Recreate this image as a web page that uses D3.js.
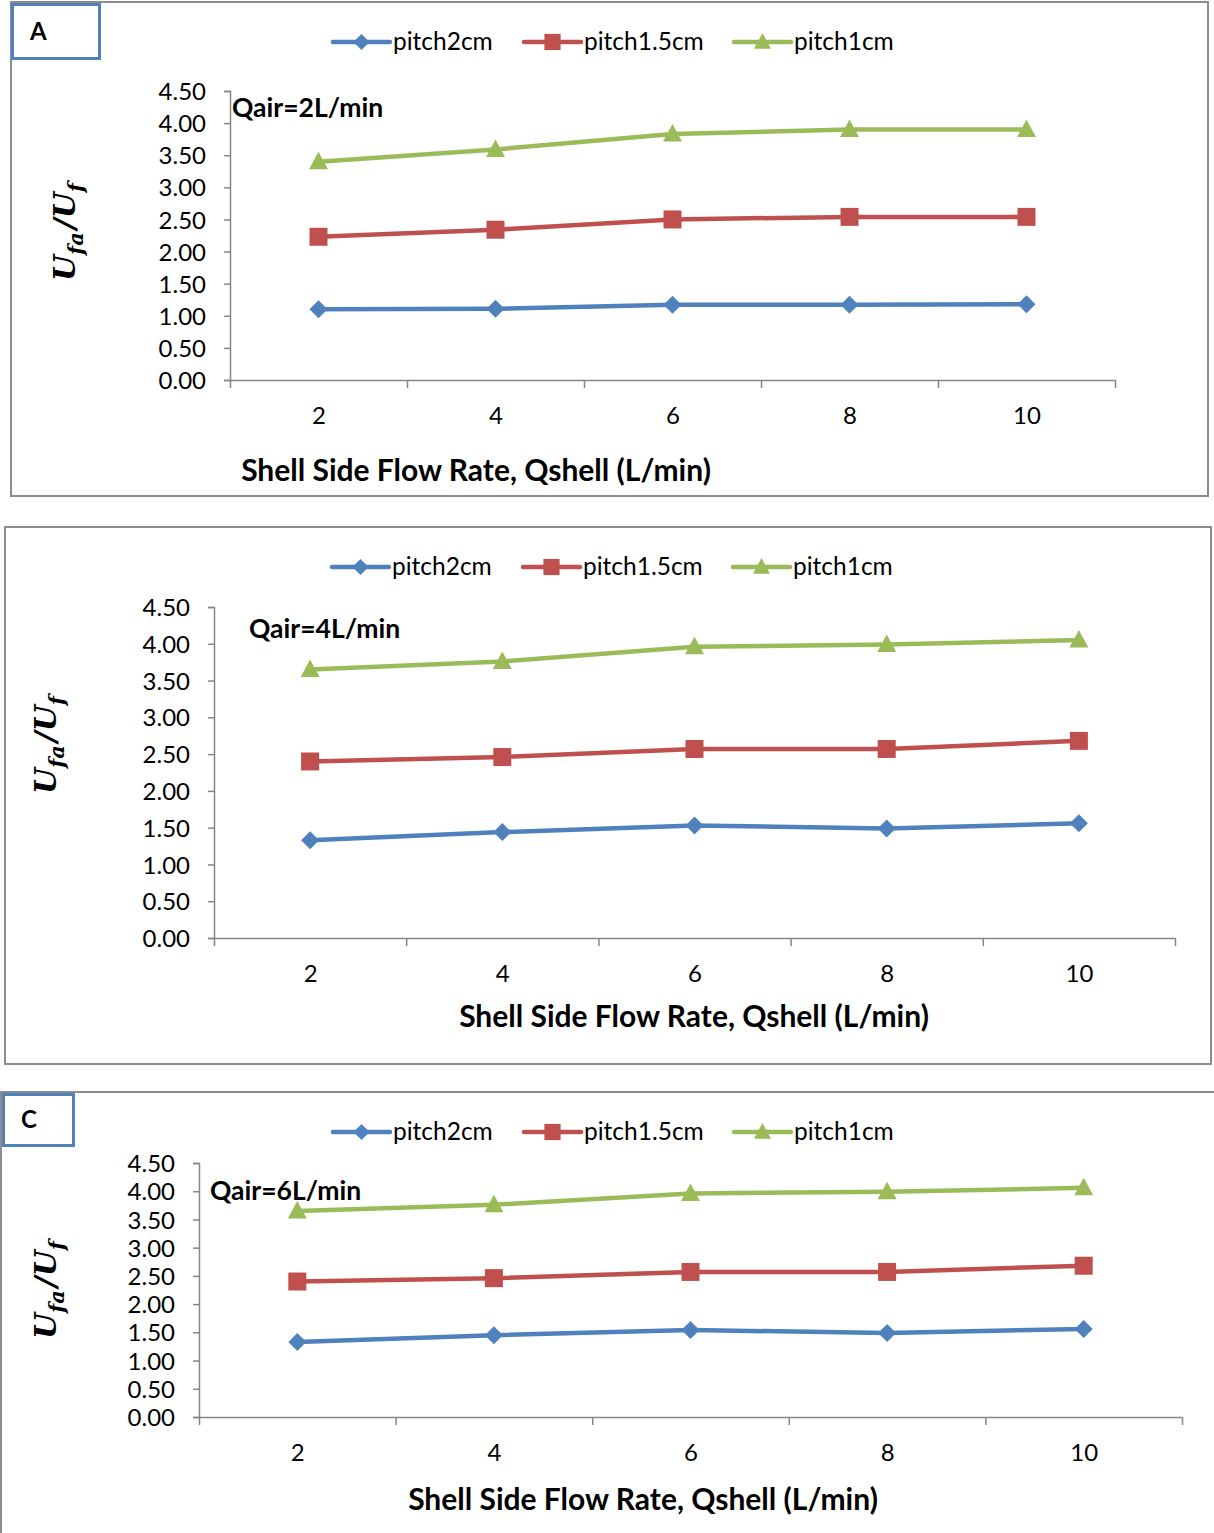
<!DOCTYPE html>
<html>
<head>
<meta charset="utf-8">
<script src="https://cdn.jsdelivr.net/npm/d3@7"></script>
<style>
  body { margin: 0; background: #fff; }
  svg { display: block; font-family: Lato, "Open Sans", sans-serif; }
</style>
</head>
<body>
<svg id="chart" width="1214" height="1533"></svg>
<script>
// Shell side flow rate (L/min) categories
const qShell = [2, 4, 6, 8, 10];
const yTicks = [0, 0.5, 1, 1.5, 2, 2.5, 3, 3.5, 4, 4.5];
const seriesNames = ['pitch2cm', 'pitch1.5cm', 'pitch1cm'];
const seriesColors = ['#4F81BD', '#C0504D', '#9BBB59'];
const seriesShapes = ['diamond', 'square', 'triangle'];

// Qair = 2 L/min
const a_pitch2 = [1.10, 1.11, 1.17, 1.17, 1.18];
const a_pitch15 = [2.23, 2.34, 2.50, 2.54, 2.54];
const a_pitch1 = [3.40, 3.59, 3.83, 3.90, 3.90];
// Qair = 4 L/min
const b_pitch2 = [1.33, 1.44, 1.53, 1.49, 1.56];
const b_pitch15 = [2.40, 2.46, 2.57, 2.57, 2.68];
const b_pitch1 = [3.65, 3.76, 3.96, 3.99, 4.05];
// Qair = 6 L/min
const c_pitch2 = [1.33, 1.45, 1.54, 1.49, 1.56];
const c_pitch15 = [2.40, 2.46, 2.57, 2.57, 2.68];
const c_pitch1 = [3.65, 3.76, 3.96, 3.99, 4.06];

const panelTitles = ['Qair=2L/min', 'Qair=4L/min', 'Qair=6L/min'];
const panelLetters = ['A', null, 'C'];
const xTitle = 'Shell Side Flow Rate, Qshell (L/min)';

const svg = d3.select('#chart');

// layout of each panel (frame, plot area, text positions)
const panels = [
  { frame: [11, 2, 1208, 496], letterBox: [11, 3, 101, 60],
    plot: { left: 230, right: 1115, top: 91, bottom: 380 },
    legendY: 42, legendX: 333, noteX: 232, noteY: 117, catY: 424, titleX: 476, titleY: 481,
    yLabelX: 64, yLabelY: 232, series: [a_pitch2, a_pitch15, a_pitch1] },
  { frame: [5, 527, 1211, 1064], letterBox: null,
    plot: { left: 214, right: 1175, top: 607, bottom: 938 },
    legendY: 567, legendX: 332, noteX: 249, noteY: 638, catY: 982, titleX: 694, titleY: 1027,
    yLabelX: 45, yLabelY: 745, series: [b_pitch2, b_pitch15, b_pitch1] },
  { frame: [1, 1092, 1216, 1536], letterBox: [2, 1093, 75, 1147],
    plot: { left: 199, right: 1182, top: 1163, bottom: 1417 },
    legendY: 1132, legendX: 333, noteX: 210, noteY: 1200, catY: 1461, titleX: 643, titleY: 1510,
    yLabelX: 45, yLabelY: 1290, series: [c_pitch2, c_pitch15, c_pitch1] }
];

function markerPath(shape) {
  if (shape === 'diamond') return 'M0,-9L9,0L0,9L-9,0Z';
  if (shape === 'square') return 'M-9,-9H9V9H-9Z';
  return 'M0,-10L9.5,7.5L-9.5,7.5Z';
}

panels.forEach((p, i) => {
  const g = svg.append('g');

  // outer frame
  g.append('rect')
    .attr('x', p.frame[0]).attr('y', p.frame[1])
    .attr('width', p.frame[2] - p.frame[0]).attr('height', p.frame[3] - p.frame[1])
    .attr('fill', '#fff').attr('stroke', '#8c8c8c').attr('stroke-width', 2);

  // panel letter box
  if (p.letterBox) {
    g.append('rect')
      .attr('x', p.letterBox[0] + 1.5).attr('y', p.letterBox[1] + 1.5)
      .attr('width', p.letterBox[2] - p.letterBox[0] - 3).attr('height', p.letterBox[3] - p.letterBox[1] - 3)
      .attr('fill', '#fff').attr('stroke', '#4F81BD').attr('stroke-width', 3);
    g.append('text')
      .attr('x', p.letterBox[0] + 19).attr('y', (p.letterBox[1] + p.letterBox[3]) / 2 + 8)
      .style('font-size', '24px').style('font-weight', 'bold')
      .text(panelLetters[i]);
  }

  const x = d3.scaleLinear().domain([1, 11]).range([p.plot.left, p.plot.right]);
  const y = d3.scaleLinear().domain([0, 4.5]).range([p.plot.bottom, p.plot.top]);

  // y axis
  const yAxis = g.append('g')
    .attr('transform', `translate(${p.plot.left},0)`)
    .call(d3.axisLeft(y).tickValues(yTicks).tickFormat(d3.format('.2f')).tickSize(6).tickPadding(18));
  yAxis.selectAll('text').style('font-size', '24px').attr('fill', '#000').attr('font-family', 'Lato, sans-serif').attr('dy', '0.36em');

  // x axis: ticks between categories, labels on categories
  const xAxis = g.append('g')
    .attr('transform', `translate(0,${p.plot.bottom})`)
    .call(d3.axisBottom(x).tickValues([1, 3, 5, 7, 9, 11]).tickFormat('').tickSize(8).tickSizeOuter(0));
  [yAxis, xAxis].forEach(ax => {
    ax.selectAll('path, line').attr('stroke', '#868686').attr('stroke-width', 1.5);
  });
  g.append('g')
    .attr('transform', `translate(0,${p.catY})`)
    .call(d3.axisBottom(x).tickValues(qShell).tickSize(0).tickPadding(0))
    .call(ax => ax.select('.domain').remove())
    .selectAll('text').style('font-size', '24px').attr('fill', '#000').attr('dy', 0).attr('font-family', 'Lato, sans-serif');

  // series lines and markers
  p.series.forEach((vals, s) => {
    const pts = qShell.map((q, k) => [x(q), y(vals[k])]);
    g.append('path')
      .attr('d', d3.line()(pts))
      .attr('fill', 'none').attr('stroke', seriesColors[s]).attr('stroke-width', 4.5)
      .attr('stroke-linejoin', 'round');
    g.selectAll(null).data(pts).join('path')
      .attr('transform', d => `translate(${d[0]},${d[1]})`)
      .attr('d', markerPath(seriesShapes[s]))
      .attr('fill', seriesColors[s]);
  });

  // legend
  const entryX = [0, 191, 401];
  seriesNames.forEach((name, s) => {
    const lx = p.legendX + entryX[s];
    g.append('line')
      .attr('x1', lx).attr('x2', lx + 57).attr('y1', p.legendY).attr('y2', p.legendY)
      .attr('stroke', seriesColors[s]).attr('stroke-width', 4.5).attr('stroke-linecap', 'round');
    g.append('path')
      .attr('transform', `translate(${lx + 28.5},${p.legendY}) scale(0.9)`)
      .attr('d', markerPath(seriesShapes[s]))
      .attr('fill', seriesColors[s]);
    g.append('text')
      .attr('x', lx + 60).attr('y', p.legendY + 8)
      .style('font-size', '24.5px')
      .text(name);
  });

  // Qair annotation
  g.append('text')
    .attr('x', p.noteX).attr('y', p.noteY)
    .style('font-size', '26.5px').style('font-weight', 'bold')
    .text(panelTitles[i]);

  // x axis title
  g.append('text')
    .attr('x', p.titleX).attr('y', p.titleY)
    .attr('text-anchor', 'middle')
    .style('font-size', '30px').style('font-weight', 'bold')
    .text(xTitle);

  // y axis title: U_fa / U_f
  const yl = g.append('text')
    .attr('transform', `translate(${p.yLabelX},${p.yLabelY}) rotate(-90)`)
    .attr('text-anchor', 'middle')
    .attr('dy', '0.35em')
    .style('font-family', '"DejaVu Serif", "Liberation Serif", serif')
    .style('font-style', 'italic').style('font-weight', 'bold')
    .style('font-size', '30px');
  yl.append('tspan').text('U');
  yl.append('tspan').attr('dy', 8).style('font-size', '21px').text('fa');
  yl.append('tspan').attr('dy', -8).attr('dx', 3).text('/U');
  yl.append('tspan').attr('dy', 8).style('font-size', '21px').text('f');
});
</script>
</body>
</html>
